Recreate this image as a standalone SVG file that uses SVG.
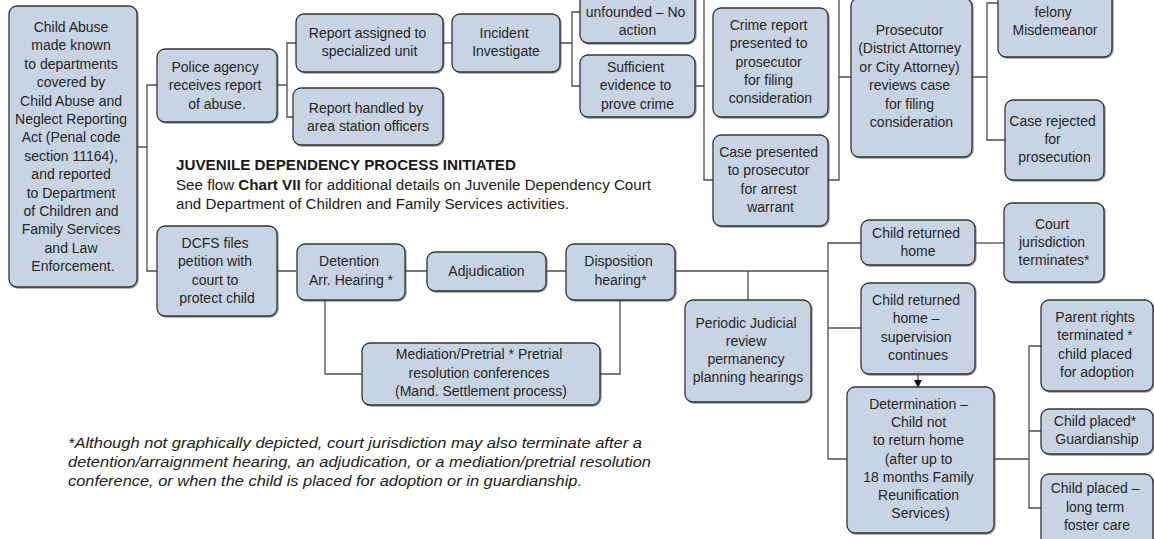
<svg xmlns="http://www.w3.org/2000/svg" width="1154" height="539" viewBox="0 0 1154 539">
  <style>
    .box { fill: #c8d4e4; stroke: #333; stroke-width: 1.3; filter: url(#sh); }
    .t { font-family: "Liberation Sans", Arial, sans-serif; font-size: 14px; fill: #262626; text-anchor: middle; }
    .note { font-family: "Liberation Sans", Arial, sans-serif; font-size: 14px; fill: #1a1a1a; }
    .link { fill: none; stroke: #4d4d4d; stroke-width: 1.3; }
  </style>
  <defs>
    <filter id="sh" x="-5%" y="-5%" width="115%" height="115%">
      <feDropShadow dx="1" dy="1" stdDeviation="0.4" flood-color="#444" flood-opacity="0.55"/>
    </filter>
    <marker id="arr" markerWidth="8" markerHeight="8" refX="7" refY="4" orient="auto" markerUnits="userSpaceOnUse">
      <path d="M0,0 L8,4 L0,8 Z" fill="#111"/>
    </marker>
  </defs>
  <rect width="1154" height="539" fill="#ffffff"/>

  <!-- connectors -->
  <g id="connectors">
    <path class="link" d="M137 147 H147 M157 85 H147 V271 H157"/>
    <path class="link" d="M277 85 H287 M296 43 H287 V117 H293"/>
    <path class="link" d="M443 43 H452"/>
    <path class="link" d="M560 43 H572 M580 12 H572 V86 H580"/>
    <path class="link" d="M695 86 H704 M704 0 V180 H713"/>
    <path class="link" d="M828 180 H839 V0 M839 77 H851"/>
    <path class="link" d="M972 77 H987 M998 3 H987 V140 H1005"/>
    <path class="link" d="M277 271 H296 M405 271 H427 M546 271 H566 M675 271 H828"/>
    <path class="link" d="M325 300 V374 H362"/>
    <path class="link" d="M620 300 V374 H600"/>
    <path class="link" d="M748 271 V300"/>
    <path class="link" d="M861 243 H828 V459 H847 M828 328 H861"/>
    <path class="link" d="M975 243 H1004"/>
    <path class="link" d="M918 374 V387" marker-end="url(#arr)"/>
    <path class="link" d="M994 459 H1029 M1041 346 H1029 V508 H1041 M1029 431 H1041"/>
  </g>

  <g id="n-abuse-reported">
    <rect class="box" x="9" y="6" width="128" height="281" rx="8"/>
    <text class="t" y="32">
      <tspan x="73">Child Abuse</tspan>
      <tspan x="73" dy="18.4">made known</tspan>
      <tspan x="73" dy="18.4">to departments</tspan>
      <tspan x="73" dy="18.4">covered by</tspan>
      <tspan x="73" dy="18.4">Child Abuse and</tspan>
      <tspan x="73" dy="18.4">Neglect Reporting</tspan>
      <tspan x="73" dy="18.4">Act (Penal code</tspan>
      <tspan x="73" dy="18.4">section 11164),</tspan>
      <tspan x="73" dy="18.4">and reported</tspan>
      <tspan x="73" dy="18.4">to Department</tspan>
      <tspan x="73" dy="18.4">of Children and</tspan>
      <tspan x="73" dy="18.4">Family Services</tspan>
      <tspan x="73" dy="18.4">and Law</tspan>
      <tspan x="73" dy="18.4">Enforcement.</tspan>
    </text>
  </g>

  <g id="n-police">
    <rect class="box" x="157" y="49" width="120" height="73" rx="8"/>
    <text class="t" y="72">
      <tspan x="217">Police agency</tspan>
      <tspan x="217" dy="18.4">receives report</tspan>
      <tspan x="217" dy="18.4">of abuse.</tspan>
    </text>
  </g>

  <g id="n-assigned">
    <rect class="box" x="296" y="14" width="147" height="58" rx="8"/>
    <text class="t" y="38">
      <tspan x="369.5">Report assigned to</tspan>
      <tspan x="369.5" dy="18.4">specialized unit</tspan>
    </text>
  </g>

  <g id="n-handled">
    <rect class="box" x="293" y="88" width="150" height="57" rx="8"/>
    <text class="t" y="113">
      <tspan x="368">Report handled by</tspan>
      <tspan x="368" dy="18.4">area station officers</tspan>
    </text>
  </g>

  <g id="n-incident">
    <rect class="box" x="452" y="14" width="108" height="58" rx="8"/>
    <text class="t" y="38">
      <tspan x="506">Incident</tspan>
      <tspan x="506" dy="18.4">Investigate</tspan>
    </text>
  </g>

  <g id="n-unfounded">
    <rect class="box" x="580" y="-20" width="115" height="63" rx="8"/>
    <text class="t" y="17">
      <tspan x="637.5">unfounded – No</tspan>
      <tspan x="637.5" dy="17.5">action</tspan>
    </text>
  </g>

  <g id="n-sufficient">
    <rect class="box" x="580" y="55" width="115" height="62" rx="8"/>
    <text class="t" y="72">
      <tspan x="637.5">Sufficient</tspan>
      <tspan x="637.5" dy="18.4">evidence to</tspan>
      <tspan x="637.5" dy="18.4">prove crime</tspan>
    </text>
  </g>

  <g id="n-crime-report">
    <rect class="box" x="713" y="8" width="115" height="109" rx="8"/>
    <text class="t" y="30">
      <tspan x="770.5">Crime report</tspan>
      <tspan x="770.5" dy="18.3">presented to</tspan>
      <tspan x="770.5" dy="18.3">prosecutor</tspan>
      <tspan x="770.5" dy="18.3">for filing</tspan>
      <tspan x="770.5" dy="18.3">consideration</tspan>
    </text>
  </g>

  <g id="n-case-presented">
    <rect class="box" x="713" y="135" width="115" height="91" rx="8"/>
    <text class="t" y="157">
      <tspan x="770.5">Case presented</tspan>
      <tspan x="770.5" dy="18.3">to prosecutor</tspan>
      <tspan x="770.5" dy="18.3">for arrest</tspan>
      <tspan x="770.5" dy="18.3">warrant</tspan>
    </text>
  </g>

  <g id="n-prosecutor">
    <rect class="box" x="851" y="-2" width="121" height="159" rx="8"/>
    <text class="t" y="35">
      <tspan x="911.5">Prosecutor</tspan>
      <tspan x="911.5" dy="18.4">(District Attorney</tspan>
      <tspan x="911.5" dy="18.4">or City Attorney)</tspan>
      <tspan x="911.5" dy="18.4">reviews case</tspan>
      <tspan x="911.5" dy="18.4">for filing</tspan>
      <tspan x="911.5" dy="18.4">consideration</tspan>
    </text>
  </g>

  <g id="n-felony">
    <rect class="box" x="998" y="-20" width="114" height="77" rx="8"/>
    <text class="t" y="17">
      <tspan x="1055">felony</tspan>
      <tspan x="1055" dy="17.5">Misdemeanor</tspan>
    </text>
  </g>

  <g id="n-rejected">
    <rect class="box" x="1005" y="100" width="99" height="80" rx="8"/>
    <text class="t" y="126">
      <tspan x="1054.5">Case rejected</tspan>
      <tspan x="1054.5" dy="18.2">for</tspan>
      <tspan x="1054.5" dy="18.2">prosecution</tspan>
    </text>
  </g>

  <g id="juvenile-note">
    <text class="note" x="176" y="170" font-weight="bold" font-size="14" textLength="340" lengthAdjust="spacingAndGlyphs">JUVENILE DEPENDENCY PROCESS INITIATED</text>
    <text class="note" x="176" y="189.5" font-size="15" textLength="475" lengthAdjust="spacingAndGlyphs">See flow <tspan font-weight="bold">Chart VII</tspan> for additional details on Juvenile Dependency Court</text>
    <text class="note" x="176" y="208.5" font-size="15" textLength="393" lengthAdjust="spacingAndGlyphs">and Department of Children and Family Services activities.</text>
  </g>

  <g id="n-dcfs">
    <rect class="box" x="157" y="226" width="120" height="90" rx="8"/>
    <text class="t" y="248">
      <tspan x="217">DCFS files</tspan>
      <tspan x="217" dy="18.3">petition with</tspan>
      <tspan x="217" dy="18.3">court to</tspan>
      <tspan x="217" dy="18.3">protect child</tspan>
    </text>
  </g>

  <g id="n-detention">
    <rect class="box" x="297" y="244" width="108" height="56" rx="8"/>
    <text class="t" y="266">
      <tspan x="351">Detention</tspan>
      <tspan x="351" dy="18.6">Arr. Hearing *</tspan>
    </text>
  </g>

  <g id="n-adjudication">
    <rect class="box" x="427" y="252" width="119" height="39" rx="8"/>
    <text class="t" x="486.5" y="276">Adjudication</text>
  </g>

  <g id="n-disposition">
    <rect class="box" x="566" y="244" width="109" height="56" rx="8"/>
    <text class="t" y="266">
      <tspan x="620.5">Disposition</tspan>
      <tspan x="620.5" dy="18.6">hearing*</tspan>
    </text>
  </g>

  <g id="n-mediation">
    <rect class="box" x="362" y="343" width="238" height="62" rx="8"/>
    <text class="t" y="359">
      <tspan x="481">Mediation/Pretrial * Pretrial</tspan>
      <tspan x="481" dy="18.5">resolution conferences</tspan>
      <tspan x="481" dy="18.5">(Mand. Settlement process)</tspan>
    </text>
  </g>

  <g id="n-periodic">
    <rect class="box" x="685" y="300" width="126" height="102" rx="8"/>
    <text class="t" y="328">
      <tspan x="748">Periodic Judicial</tspan>
      <tspan x="748" dy="18">review</tspan>
      <tspan x="748" dy="18">permanency</tspan>
      <tspan x="748" dy="18">planning hearings</tspan>
    </text>
  </g>

  <g id="n-returned-home">
    <rect class="box" x="861" y="220" width="114" height="45" rx="8"/>
    <text class="t" y="238">
      <tspan x="918">Child returned</tspan>
      <tspan x="918" dy="18.2">home</tspan>
    </text>
  </g>

  <g id="n-court-terminates">
    <rect class="box" x="1004" y="203" width="100" height="79" rx="8"/>
    <text class="t" y="229">
      <tspan x="1054">Court</tspan>
      <tspan x="1054" dy="18">jurisdiction</tspan>
      <tspan x="1054" dy="18">terminates*</tspan>
    </text>
  </g>

  <g id="n-supervision">
    <rect class="box" x="861" y="283" width="114" height="91" rx="8"/>
    <text class="t" y="305">
      <tspan x="918">Child returned</tspan>
      <tspan x="918" dy="18.4">home –</tspan>
      <tspan x="918" dy="18.4">supervision</tspan>
      <tspan x="918" dy="18.4">continues</tspan>
    </text>
  </g>

  <g id="n-determination">
    <rect class="box" x="847" y="387" width="147" height="146" rx="8"/>
    <text class="t" y="409">
      <tspan x="920.5">Determination –</tspan>
      <tspan x="920.5" dy="18.2">Child not</tspan>
      <tspan x="920.5" dy="18.2">to return home</tspan>
      <tspan x="920.5" dy="18.2">(after up to</tspan>
      <tspan x="920.5" dy="18.2">18 months Family</tspan>
      <tspan x="920.5" dy="18.2">Reunification</tspan>
      <tspan x="920.5" dy="18.2">Services)</tspan>
    </text>
  </g>

  <g id="n-parent-rights">
    <rect class="box" x="1041" y="300" width="112" height="91" rx="8"/>
    <text class="t" y="322">
      <tspan x="1097">Parent rights</tspan>
      <tspan x="1097" dy="18.3">terminated *</tspan>
      <tspan x="1097" dy="18.3">child placed</tspan>
      <tspan x="1097" dy="18.3">for adoption</tspan>
    </text>
  </g>

  <g id="n-guardianship">
    <rect class="box" x="1041" y="409" width="112" height="45" rx="8"/>
    <text class="t" y="426">
      <tspan x="1097">Child placed*</tspan>
      <tspan x="1097" dy="18">Guardianship</tspan>
    </text>
  </g>

  <g id="n-foster-care">
    <rect class="box" x="1041" y="474" width="112" height="80" rx="8"/>
    <text class="t" y="493">
      <tspan x="1097">Child placed –</tspan>
      <tspan x="1097" dy="18.5">long term</tspan>
      <tspan x="1097" dy="18.5">foster care</tspan>
    </text>
  </g>

  <g id="footnote" font-style="italic">
    <text class="note" x="68" y="448" textLength="574" lengthAdjust="spacingAndGlyphs">*Although not graphically depicted, court jurisdiction may also terminate after a</text>
    <text class="note" x="68" y="467" textLength="583" lengthAdjust="spacingAndGlyphs">detention/arraignment hearing, an adjudication, or a mediation/pretrial resolution</text>
    <text class="note" x="68" y="486" textLength="514" lengthAdjust="spacingAndGlyphs">conference, or when the child is placed for adoption or in guardianship.</text>
  </g>
</svg>
